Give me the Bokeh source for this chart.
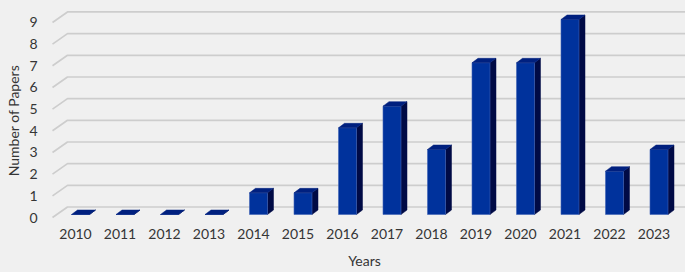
import math
from bokeh.plotting import figure
from bokeh.models import Range1d
from bokeh.core.properties import value
from bokeh.embed import file_html
from bokeh.resources import INLINE

# ---- data ----
years = [2010, 2011, 2012, 2013, 2014, 2015, 2016, 2017, 2018, 2019, 2020, 2021, 2022, 2023]
papers = [0, 0, 0, 0, 1, 1, 4, 5, 3, 7, 7, 9, 2, 3]
y_ticks = [0, 1, 2, 3, 4, 5, 6, 7, 8, 9]
x_labels = [str(y) for y in years]
y_labels = [str(v) for v in y_ticks]
x_title = "Years"
y_title = "Number of Papers"

# ---- geometry (pixel-based styling constants, page coords) ----
W, H = 685, 272
ORIGIN = 0        # page offset of the figure
PX = 44.5    # px per year
PY = 21.67   # px per paper
X_REF_PX = 75     # page x of first year
Y_REF_PX = 217    # page y of value 0 (front plane)


def dx(px):
    return px / PX


def dy(px):
    return px / PY


x0 = years[0] - dx(X_REF_PX - ORIGIN)
x1 = x0 + dx(W)
y1 = dy(Y_REF_PX - ORIGIN)
y0 = y1 - dy(H)

BG = "#f0f0f0"
TXT = "#353535"
FONT = "Lato"

p = figure(width=W, height=H, output_backend="svg", toolbar_location=None,
           x_range=Range1d(x0, x1), y_range=Range1d(y0, y1),
           min_border=0, background_fill_color=BG, border_fill_color=BG,
           outline_line_color=None)
p.axis.visible = False
p.xgrid.visible = False
p.ygrid.visible = False

# 3D wall gridlines
left_px = 52
gx_start = years[0] - dx(X_REF_PX - left_px)
wdx, wdy = dx(15), dy(10.5)
gxs, gys = [], []
for v in y_ticks:
    gxs.append([gx_start, gx_start + wdx, x1])
    gys.append([v, v + wdy, v + wdy])
p.multi_line(gxs, gys, line_color="#cdcdcd", line_width=1.7)

# 3D bars
fx, fy = dx(5), dy(3)
bw = dx(18)
sx, sy = dx(6), dy(4.5)
lefts = [yr + fx - bw / 2 for yr in years]
rights = [yr + fx + bw / 2 for yr in years]
bottoms = [fy for _ in years]
tops = [v + fy for v in papers]

side_xs, side_ys, top_xs, top_ys = [], [], [], []
for l, r, b, t in zip(lefts, rights, bottoms, tops):
    side_xs.append([r, r + sx, r + sx, r])
    side_ys.append([b, b + sy, t + sy, t])
    top_xs.append([l, r, r + sx, l + sx])
    top_ys.append([t, t, t + sy, t + sy])

p.patches(side_xs, side_ys, fill_color="#000a45", line_color="#000a45", line_width=0.5)
p.quad(left=lefts, right=rights, bottom=bottoms, top=tops,
       fill_color="#00329c", line_color="#3f63b5", line_width=0.6)
p.patches(top_xs, top_ys, fill_color="#00207f", line_color="#00207f", line_width=0.5)

# tick labels
xl_y = -dy(233.5 - Y_REF_PX)
p.text(x=years, y=[xl_y] * len(years), text=x_labels,
       text_font=value(FONT), text_font_size="14px", text_color=TXT,
       text_align="center", text_baseline="middle")
yl_x = years[0] - dx(X_REF_PX - 37)
p.text(x=[yl_x] * len(y_ticks), y=y_ticks, text=y_labels,
       text_font=value(FONT), text_font_size="14px", text_color=TXT,
       text_align="right", text_baseline="middle")

# axis titles
p.text(x=[years[0] + dx(364 - X_REF_PX)], y=[-dy(259.5 - Y_REF_PX)], text=[x_title],
       text_font=value(FONT), text_font_size="14px", text_color=TXT,
       text_align="center", text_baseline="middle")
p.text(x=[years[0] - dx(X_REF_PX - 13)], y=[-dy(120 - Y_REF_PX)], text=[y_title],
       text_font=value(FONT), text_font_size="14px", text_color=TXT,
       text_align="center", text_baseline="middle", angle=math.pi / 2)

html = file_html(p, INLINE)
html = html.replace("<head>", "<head><style>body{background:#f0f0f0;}</style>", 1)
open("out.html", "w").write(html)
